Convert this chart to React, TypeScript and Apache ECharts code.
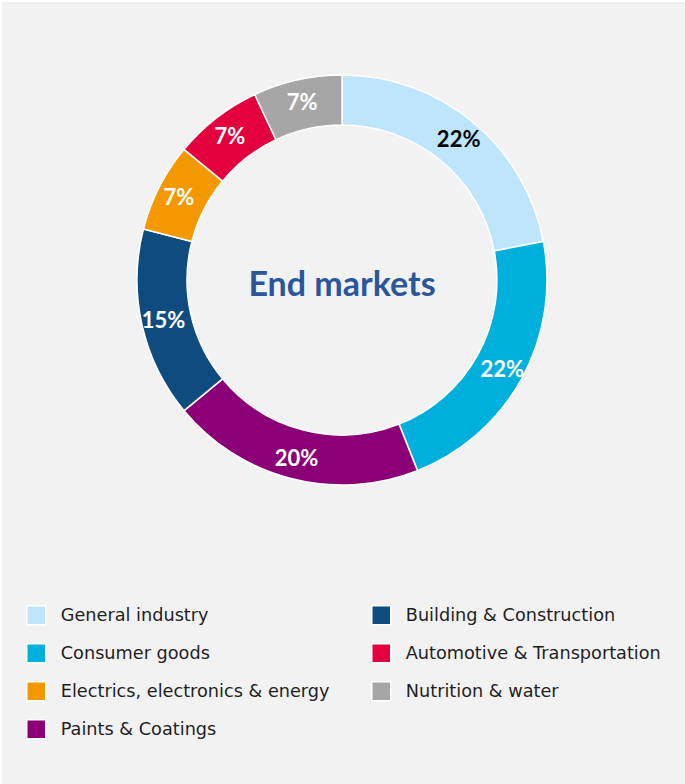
import React, { useEffect, useRef } from "react";
import * as echarts from "echarts";

const categories = [
  "General industry",
  "Consumer goods",
  "Paints & Coatings",
  "Building & Construction",
  "Electrics, electronics & energy",
  "Automotive & Transportation",
  "Nutrition & water",
];
const shares = [22, 22, 20, 15, 7, 7, 7];
const colors = ["#bee5fc", "#00b0dc", "#8b0077", "#0e4c80", "#f39800", "#e4003c", "#a6a6a6"];
const labelColors = ["#000000", "#ffffff", "#ffffff", "#ffffff", "#ffffff", "#ffffff", "#ffffff"];
const legendLeft = [
  "General industry",
  "Consumer goods",
  "Electrics, electronics & energy",
  "Paints & Coatings",
];
const legendRight = [
  "Building & Construction",
  "Automotive & Transportation",
  "Nutrition & water",
];
const centerTitle = "End markets";

export default function App() {
  const ref = useRef<HTMLDivElement>(null);
  useEffect(() => {
    if (!ref.current) return;
    const chart = echarts.init(ref.current, undefined, { renderer: "svg" });
    const legendCommon = {
      orient: "vertical" as const,
      icon: "rect",
      itemWidth: 19,
      itemHeight: 19,
      itemGap: 17.5,
      padding: 0,
      selectedMode: false,
      itemStyle: { borderColor: "#ffffff", borderWidth: 1.5 },
      textStyle: {
        fontFamily: "DejaVu Sans",
        fontSize: 17.7,
        lineHeight: 19,
        color: "#1f1f1f",
        padding: [0, 0, 0, 10],
      },
    };
    chart.setOption({
      animation: false,
      backgroundColor: "#f2f2f2",
      color: colors,
      legend: [
        { ...legendCommon, left: 24, top: 603, data: legendLeft },
        { ...legendCommon, left: 369, top: 603, data: legendRight },
      ],
      graphic: [
        {
          type: "text",
          x: 340,
          y: 280,
          style: {
            text: centerTitle,
            fontFamily: "Lato",
            fontWeight: "bold",
            fontSize: 34,
            fill: "#2b579a",
            align: "center",
            verticalAlign: "middle",
          },
        },
      ],
      series: [
        {
          type: "pie",
          center: [340, 278],
          radius: [155, 205],
          startAngle: 90,
          clockwise: true,
          avoidLabelOverlap: false,
          itemStyle: { borderColor: "#ffffff", borderWidth: 1.5 },
          label: {
            show: true,
            position: "inside",
            formatter: "{c}%",
            fontFamily: "Lato",
            fontWeight: "bold",
            fontSize: 22,
          },
          labelLine: { show: false },
          emphasis: { disabled: true },
          data: categories.map((name, i) => ({
            name,
            value: shares[i],
            label: { color: labelColors[i] },
          })),
        },
      ],
    });
    return () => chart.dispose();
  }, []);
  return (
    <div style={{ position: "fixed", left: 0, top: 0, width: 685, height: 784, background: "#ffffff" }}>
      <div ref={ref} style={{ position: "absolute", left: 2, top: 2, width: 683, height: 782 }} />
    </div>
  );
}
